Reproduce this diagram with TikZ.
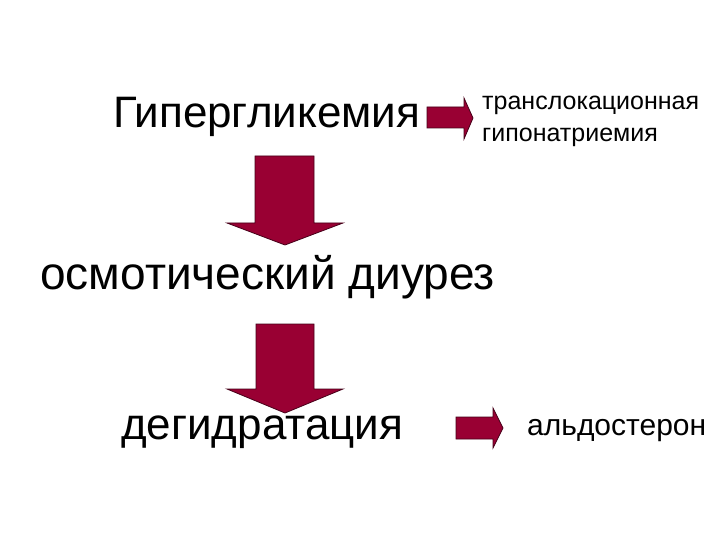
\documentclass[tikz,border=0pt]{standalone}
\usepackage{fontspec}
\setmainfont{Liberation Sans}
\definecolor{arrowfill}{RGB}{153,0,51}
\definecolor{arrowline}{RGB}{70,0,25}
\begin{document}
\begin{tikzpicture}[x=1bp,y=-1bp,
  blockarrow/.style={fill=arrowfill,draw=arrowline,line width=0.8bp,line join=miter},
  bigtext/.style={anchor=base west,inner sep=0pt,font=\fontsize{44bp}{50bp}\selectfont},
  osmtext/.style={anchor=base west,inner sep=0pt,font=\fontsize{46bp}{52bp}\selectfont},
  smalltext/.style={anchor=base west,inner sep=0pt,font=\fontsize{25bp}{32bp}\selectfont},
  midtext/.style={anchor=base west,inner sep=0pt,font=\fontsize{30bp}{36bp}\selectfont}]
\useasboundingbox[fill=white] (0,0) rectangle (720,540);
% texts
\node[bigtext] (hyper) at (113,128) {Гипергликемия};
\node[smalltext] (trans1) at (482,110) {транслокационная};
\node[smalltext] (trans2) at (482,142) {гипонатриемия};
\node[osmtext] (osm) at (40,289) {осмотический диурез};
\node[bigtext] (deh) at (121,439) {дегидратация};
\node[midtext] (ald) at (527,435) {альдостерон};
% big down arrows
\draw[blockarrow] (255,156) -- (314,156) -- (314,223) -- (343,223) -- (285,245) -- (227,223) -- (255,223) -- cycle;
\draw[blockarrow] (256,324) -- (314,324) -- (314,389) -- (343,389) -- (285,413) -- (227,389) -- (256,389) -- cycle;
% small right arrows
\draw[blockarrow] (427,107) -- (464,107) -- (464,98) -- (473,118) -- (464,139) -- (464,128) -- (427,128) -- cycle;
\draw[blockarrow] (456,417) -- (493,417) -- (493,408) -- (503,428) -- (493,448) -- (493,439) -- (456,439) -- cycle;
\end{tikzpicture}
\end{document}
